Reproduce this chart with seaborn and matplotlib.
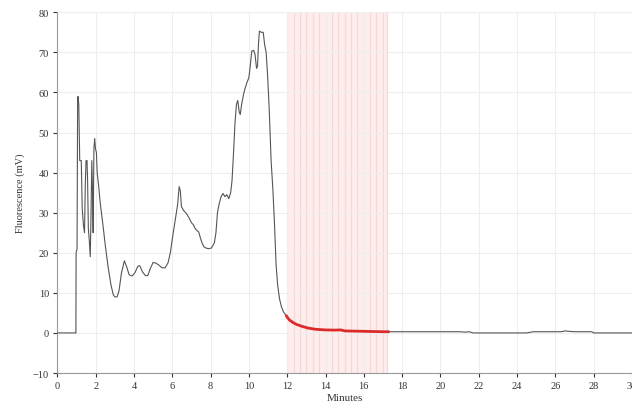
import numpy as np
import pandas as pd
import matplotlib
matplotlib.use("Agg")
import matplotlib.pyplot as plt
import seaborn as sns

# ---- data ----
minutes = [0.00, 0.97, 0.98, 1.03, 1.06, 1.08, 1.12, 1.17, 1.25, 1.30, 1.36, 1.42, 1.46,
           1.50, 1.55, 1.58, 1.62, 1.67, 1.72, 1.76, 1.80, 1.84, 1.87, 1.91, 1.95, 1.99,
           2.04, 2.08, 2.15, 2.25, 2.38, 2.50, 2.65, 2.80, 2.92, 3.00, 3.12, 3.22, 3.35,
           3.50, 3.62, 3.75, 3.90, 4.05, 4.20, 4.30, 4.45, 4.60, 4.72, 4.85, 5.00, 5.15,
           5.28, 5.45, 5.62, 5.78, 5.90, 6.02, 6.15, 6.28, 6.36, 6.42, 6.48, 6.60, 6.70,
           6.78, 6.90, 7.00, 7.10, 7.20, 7.30, 7.38, 7.45, 7.55, 7.65, 7.75, 7.90, 8.05,
           8.20, 8.28, 8.36, 8.44, 8.55, 8.65, 8.75, 8.85, 8.95, 9.05, 9.12, 9.20, 9.27,
           9.35, 9.42, 9.50, 9.55, 9.62, 9.72, 9.80, 9.90, 10.00, 10.08, 10.15, 10.25,
           10.32, 10.40, 10.45, 10.50, 10.55, 10.65, 10.75, 10.82, 10.90, 10.98, 11.06,
           11.16, 11.25, 11.33, 11.42, 11.50, 11.60, 11.70, 11.80, 11.95, 12.10, 12.30,
           12.50, 12.80, 13.10, 13.50, 14.00, 14.50, 14.80, 15.00, 15.50, 16.00, 16.50,
           17.00, 17.30, 18.00, 19.00, 20.00, 21.00, 21.30, 21.50, 21.70, 22.50, 23.50,
           24.50, 24.85, 25.50, 26.30, 26.50, 26.70, 27.00, 27.90, 28.00, 30.00]
fluorescence = [0.0, 0.0, 20.0, 21.0, 58.0, 59.0, 57.0, 43.0, 43.0, 31.0, 27.0, 25.0, 37.0,
                43.0, 43.0, 38.0, 26.0, 23.0, 19.0, 30.0, 43.0, 35.0, 25.0, 46.0, 48.5, 46.0,
                45.0, 40.0, 37.0, 32.0, 27.0, 22.0, 16.5, 12.0, 9.5, 9.0, 9.0, 10.5, 15.0,
                18.0, 16.5, 14.5, 14.2, 15.0, 16.6, 16.8, 15.2, 14.3, 14.3, 16.0, 17.6, 17.4,
                17.0, 16.3, 16.2, 17.5, 20.0, 24.0, 28.0, 32.0, 36.5, 35.5, 31.5, 30.5, 30.0,
                29.5, 28.5, 27.5, 27.0, 26.0, 25.5, 25.2, 24.0, 22.5, 21.5, 21.2, 21.0, 21.2,
                22.5, 25.0, 30.0, 32.0, 34.0, 34.8, 34.0, 34.5, 33.5, 35.0, 38.0, 45.0, 52.0,
                57.0, 58.0, 55.0, 54.5, 57.0, 59.5, 61.0, 62.5, 63.7, 67.0, 70.3, 70.5,
                69.5, 66.0, 66.5, 72.0, 75.3, 75.0, 75.0, 72.0, 70.0, 64.0, 56.0,
                43.0, 36.0, 28.0, 17.0, 12.0, 8.5, 6.5, 5.3, 4.3, 3.3, 2.6,
                2.1, 1.6, 1.2, 0.9, 0.75, 0.7, 0.75, 0.5, 0.45, 0.4, 0.35,
                0.3, 0.3, 0.3, 0.3, 0.3, 0.3, 0.2, 0.3, 0.0, 0.0, 0.0,
                0.0, 0.3, 0.3, 0.3, 0.5, 0.4, 0.3, 0.3, 0.0, 0.0]
collect_start, collect_end = 12.0, 17.2
fraction_edges = [12.0, 12.33, 12.66, 13.0, 13.33, 13.66, 14.0, 14.33, 14.66, 15.0,
                  15.33, 15.66, 16.0, 16.33, 16.66, 17.0, 17.2]
x_ticks = [0, 2, 4, 6, 8, 10, 12, 14, 16, 18, 20, 22, 24, 26, 28, 30]
y_ticks = [-10, 0, 10, 20, 30, 40, 50, 60, 70, 80]

df = pd.DataFrame({"Minutes": minutes, "Fluorescence (mV)": fluorescence})
collected = df[(df["Minutes"] >= collect_start - 0.05) & (df["Minutes"] <= collect_end + 0.1)]

sns.set_style("white")
plt.rcParams["font.family"] = ["Liberation Serif", "DejaVu Serif"]

fig = plt.figure(figsize=(6.32, 4.10), dpi=100)
ax = fig.add_axes([0.0907, 0.0878, 0.9093, 0.8798])

# collected fractions shading
for a, b in zip(fraction_edges[:-1], fraction_edges[1:]):
    ax.axvspan(a, b, color="#fdeded", lw=0, zorder=0)
for e in fraction_edges:
    ax.axvline(e, color="#f9d6d6", lw=0.8, zorder=0.5)

ax.grid(True, color="#eeeeee", lw=0.8, zorder=0.2)
ax.set_axisbelow(True)

sns.lineplot(data=df, x="Minutes", y="Fluorescence (mV)", ax=ax, color="#555555",
             lw=0.8, sort=False, estimator=None, zorder=3)
sns.lineplot(data=collected, x="Minutes", y="Fluorescence (mV)", ax=ax, color="#dc2a2a",
             lw=2.0, sort=False, estimator=None, zorder=4)

ax.set_xlim(0, 30)
ax.set_ylim(-10, 80)
ax.set_xticks(x_ticks)
ax.set_yticks(y_ticks)
ax.tick_params(axis="both", labelsize=7.5, colors="#333333", length=3, width=0.8,
               direction="out", pad=3)
ax.tick_params(axis="both", bottom=True, left=True)
for s in ["top", "right"]:
    ax.spines[s].set_visible(False)
for s in ["left", "bottom"]:
    ax.spines[s].set_color("#999999")
    ax.spines[s].set_linewidth(0.8)

ax.set_xlabel("Minutes", fontsize=8, color="#333333", labelpad=2)
ax.set_ylabel("Fluorescence (mV)", fontsize=7.5, color="#333333", labelpad=6)

fig.savefig("out.png", dpi=100)
